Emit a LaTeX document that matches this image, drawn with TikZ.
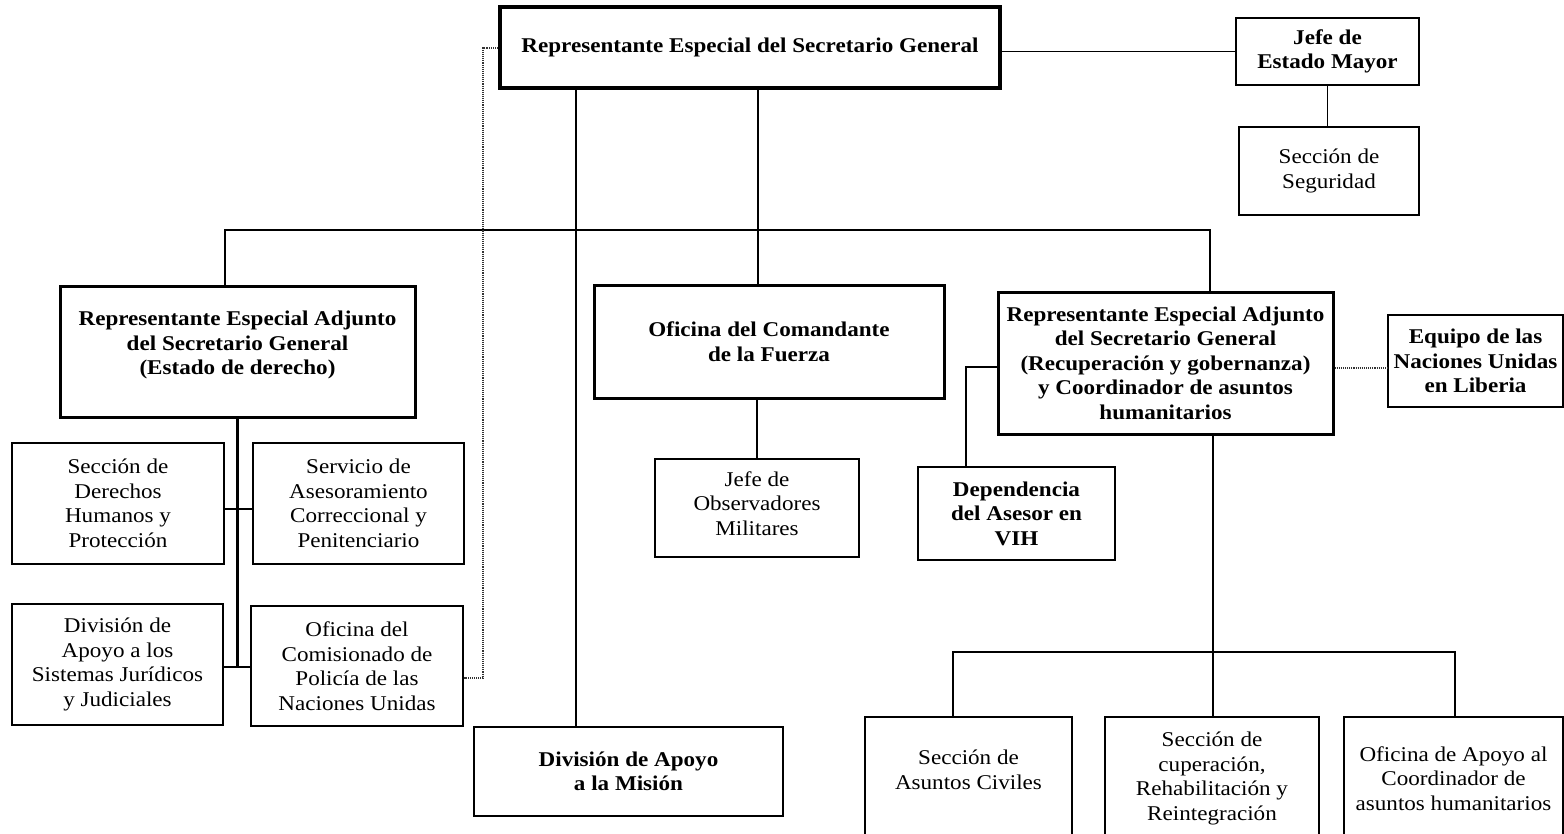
\documentclass[tikz,border=0pt]{standalone}
\usepackage{fontspec}
\setmainfont{Liberation Serif}[FakeStretch=1.1]
\newcommand\orgreg{\fontsize{21}{24.5}\selectfont}
\newcommand\orgbold{\bfseries\fontsize{21}{24.5}\selectfont}
\begin{document}
\begin{tikzpicture}[x=1pt,y=-1pt,
  unit/.style={draw, rectangle, inner sep=0pt, align=center, line width=1.2pt, font=\orgreg},
  keyunit/.style={unit, line width=1.7pt, font=\orgbold},
  headunit/.style={unit, line width=3pt, font=\orgbold},
  btxt/.style={inner sep=0pt, align=center, font=\orgbold},
  rtxt/.style={inner sep=0pt, align=center, font=\orgreg},
  link/.style={line width=1.4pt},
  mainlink/.style={line width=2.1pt},
  heavylink/.style={line width=2.6pt},
  liaison/.style={densely dotted, line width=1.1pt, black!80}]
\useasboundingbox (0,0) rectangle (1564,833);

% --- top level ---
\node[headunit, line width=4pt, minimum width=500pt, minimum height=81pt] (resg) at (750,47.5)
  {Representante Especial del Secretario General};
\node[keyunit, minimum width=183pt, minimum height=67pt] (jefe) at (1327.5,51.5)
  {Jefe de\\Estado Mayor};
\node[unit, minimum width=180pt, minimum height=88pt] (seg) at (1329,171)
  {Sección de\\Seguridad};

% --- second level ---
\node[headunit, minimum width=355pt, minimum height=131pt] (adjL) at (237.5,351.5) {};
\node[btxt] at (237.5,345)
  {Representante Especial Adjunto\\del Secretario General\\(Estado de derecho)};
\node[headunit, minimum width=350pt, minimum height=113pt] (com) at (769,341.5)
  {Oficina del Comandante\\de la Fuerza};
\node[headunit, minimum width=335pt, minimum height=142pt] (adjR) at (1165.5,363)
  {Representante Especial Adjunto\\del Secretario General\\(Recuperación y gobernanza)\\y Coordinador de asuntos\\humanitarios};
\node[keyunit, minimum width=175pt, minimum height=92pt] (eq) at (1475.5,361)
  {Equipo de las\\Naciones Unidas\\en Liberia};

% --- rule of law pillar ---
\node[unit, minimum width=212pt, minimum height=121pt] (der) at (118,503.5)
  {Sección de\\Derechos\\Humanos y\\Protección};
\node[unit, minimum width=211pt, minimum height=121pt] (ser) at (358.5,503.5)
  {Servicio de\\Asesoramiento\\Correccional y\\Penitenciario};
\node[unit, minimum width=211pt, minimum height=121pt] (div) at (117.5,664.5)
  {División de\\Apoyo a los\\Sistemas Jurídicos\\y Judiciales};
\node[unit, minimum width=212pt, minimum height=120pt] (ocp) at (357,666)
  {Oficina del\\Comisionado de\\Policía de las\\Naciones Unidas};

% --- force and support ---
\node[unit, minimum width=204pt, minimum height=98pt] (jobs) at (757,508) {};
\node[rtxt] at (757,503.5) {Jefe de\\Observadores\\Militares};
\node[keyunit, line width=2.3pt, minimum width=309pt, minimum height=89pt] (dam) at (628.5,771.5)
  {División de Apoyo\\a la Misión};

% --- recovery and governance pillar ---
\node[keyunit, line width=2pt, minimum width=197pt, minimum height=93pt] (dep) at (1016.5,513.5)
  {Dependencia\\del Asesor en\\VIH};
\node[unit, minimum width=207pt, minimum height=123pt] (civ) at (968.5,778.5) {};
\node[rtxt] at (968.5,770) {Sección de\\Asuntos Civiles};
\node[unit, minimum width=214pt, minimum height=123pt] (rec) at (1212,778.5)
  {Sección de\\cuperación,\\Rehabilitación y\\Reintegración};
\node[unit, minimum width=219pt, minimum height=123pt] (ofc) at (1453.5,778.5)
  {Oficina de Apoyo al\\Coordinador de\\asuntos humanitarios};

% --- connectors ---
\draw[link] (jefe.west) -- (jefe.west -| resg.east);
\draw[link] (jefe.south) -- (jefe.south |- seg.north);
\draw[heavylink] (resg.south -| 576,0) -- (dam.north -| 576,0);
\draw[link] (resg.south -| 758,0) -- (com.north -| 758,0);
\draw[mainlink] (adjL.north -| 225,0) -- (225,230) -- (1210,230) -- (adjR.north -| 1210,0);
\draw[liaison] (resg.west |- 0,48) -- (483,48) -- (483,678) -- (ocp.east |- 0,678);

\draw[mainlink] (adjL.south) -- (adjL.south |- 0,667);
\draw[mainlink] (der.east |- 0,509) -- (ser.west |- 0,509);
\draw[mainlink] (div.east |- 0,667) -- (ocp.west |- 0,667);

\draw[link] (jobs.north) -- (jobs.north |- com.south);

\draw[mainlink] (adjR.west |- 0,367) -- (966,367) -- (dep.north -| 966,0);
\draw[liaison] (adjR.east |- 0,368) -- (eq.west |- 0,368);

\draw[mainlink] (adjR.south -| 1213,0) -- (rec.north -| 1213,0);
\draw[mainlink] (civ.north -| 953,0) -- (953,652) -- (1455,652) -- (ofc.north -| 1455,0);
\end{tikzpicture}
\end{document}
